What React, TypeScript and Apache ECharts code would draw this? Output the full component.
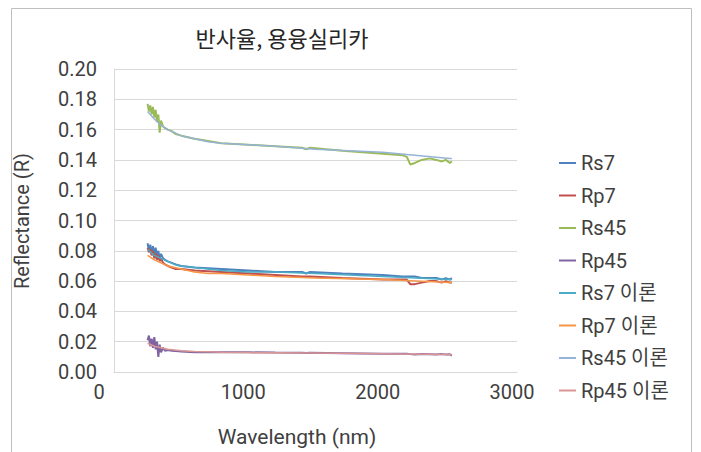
import React, { useEffect, useRef } from "react";
import * as echarts from "echarts";

const title = "반사율, 용융실리카";
const xName = "Wavelength (nm)";
const yName = "Reflectance (R)";

const xTicks = [0, 1000, 2000, 3000];
const yTicks = [0, 0.02, 0.04, 0.06, 0.08, 0.1, 0.12, 0.14, 0.16, 0.18, 0.2];

// measured wavelengths (nm)
const measuredWl = [250, 260, 270, 280, 290, 300, 310, 320, 330, 340, 350, 365, 380, 400, 430, 460, 500, 600, 800, 1000, 1200, 1400, 1430, 1460, 1700, 2000, 2150, 2180, 2205, 2240, 2290, 2350, 2400, 2440, 2470, 2500, 2515];

const rs7 = [0.085, 0.080, 0.084, 0.078, 0.083, 0.077, 0.082, 0.076, 0.080, 0.075, 0.078, 0.075, 0.074, 0.073, 0.072, 0.071, 0.070, 0.069, 0.068, 0.067, 0.066, 0.066, 0.065, 0.066, 0.065, 0.064, 0.063, 0.063, 0.063, 0.063, 0.062, 0.062, 0.062, 0.061, 0.062, 0.061, 0.062];
const rp7 = [0.082, 0.079, 0.081, 0.077, 0.080, 0.075, 0.078, 0.074, 0.077, 0.073, 0.075, 0.072, 0.071, 0.070, 0.069, 0.068, 0.068, 0.067, 0.066, 0.065, 0.064, 0.063, 0.063, 0.063, 0.062, 0.061, 0.061, 0.061, 0.058, 0.058, 0.059, 0.060, 0.060, 0.059, 0.060, 0.059, 0.059];
const rs45 = [0.177, 0.172, 0.176, 0.170, 0.175, 0.168, 0.173, 0.165, 0.170, 0.158, 0.166, 0.162, 0.161, 0.160, 0.159, 0.157, 0.156, 0.154, 0.151, 0.150, 0.149, 0.148, 0.147, 0.148, 0.146, 0.144, 0.143, 0.142, 0.137, 0.138, 0.140, 0.141, 0.140, 0.139, 0.140, 0.138, 0.139];
const rp45 = [0.021, 0.024, 0.017, 0.022, 0.016, 0.023, 0.015, 0.020, 0.010, 0.018, 0.013, 0.016, 0.014, 0.0145, 0.014, 0.0138, 0.0135, 0.013, 0.013, 0.013, 0.0128, 0.0127, 0.0125, 0.0127, 0.0124, 0.012, 0.012, 0.012, 0.0118, 0.0116, 0.0118, 0.0117, 0.0116, 0.0118, 0.0115, 0.0117, 0.0108];

// theoretical wavelengths (nm)
const theoryWl = [250, 300, 350, 400, 450, 500, 600, 700, 800, 1000, 1200, 1500, 2000, 2500, 2515];
const rs7Theory = [0.081, 0.077, 0.075, 0.073, 0.071, 0.070, 0.069, 0.068, 0.067, 0.066, 0.066, 0.065, 0.063, 0.061, 0.061];
const rp7Theory = [0.077, 0.074, 0.072, 0.070, 0.069, 0.068, 0.066, 0.065, 0.065, 0.064, 0.063, 0.062, 0.061, 0.059, 0.059];
const rs45Theory = [0.172, 0.167, 0.163, 0.160, 0.158, 0.156, 0.154, 0.152, 0.151, 0.150, 0.149, 0.147, 0.145, 0.141, 0.141];
const rp45Theory = [0.019, 0.017, 0.016, 0.015, 0.0145, 0.014, 0.0135, 0.0133, 0.013, 0.0128, 0.0127, 0.0125, 0.012, 0.0115, 0.0115];

const seriesNames = ["Rs7", "Rp7", "Rs45", "Rp45", "Rs7 이론", "Rp7 이론", "Rs45 이론", "Rp45 이론"];
const seriesColors = ["#4F81BD", "#C0504D", "#9BBB59", "#8064A2", "#4BACC6", "#F79646", "#95B3D7", "#D99694"];

const FONT = "Roboto, 'Noto Sans CJK KR', sans-serif";
const TEXT = "#404040";

function pairs(xs: number[], ys: number[]) {
  return xs.map((x, i) => [x, ys[i]]);
}

export default function App() {
  const ref = useRef<HTMLDivElement>(null);
  useEffect(() => {
    if (!ref.current) return;
    const chart = echarts.init(ref.current, null, { renderer: "svg" });
    const dataSets = [
      pairs(measuredWl, rs7),
      pairs(measuredWl, rp7),
      pairs(measuredWl, rs45),
      pairs(measuredWl, rp45),
      pairs(theoryWl, rs7Theory),
      pairs(theoryWl, rp7Theory),
      pairs(theoryWl, rs45Theory),
      pairs(theoryWl, rp45Theory),
    ];
    chart.setOption({
      animation: false,
      backgroundColor: "#ffffff",
      textStyle: { fontFamily: FONT },
      graphic: [
        {
          type: "rect",
          shape: { x: 11.5, y: 8.5, width: 680, height: 470 },
          style: { fill: "none", stroke: "#bfbfbf", lineWidth: 1 },
          silent: true,
        },
        {
          type: "text",
          x: 282,
          y: 37,
          style: {
            text: title,
            fill: "#262626",
            font: `22px 'Noto Sans CJK KR', ${FONT}`,
            align: "center",
            verticalAlign: "middle",
          },
        },
        {
          type: "text",
          x: 297,
          y: 437,
          style: {
            text: xName,
            fill: TEXT,
            font: `21px ${FONT}`,
            align: "center",
            verticalAlign: "middle",
          },
        },
        {
          type: "text",
          x: 22,
          y: 221,
          rotation: Math.PI / 2,
          style: {
            text: yName,
            fill: TEXT,
            font: `20px ${FONT}`,
            align: "center",
            verticalAlign: "middle",
          },
        },
      ],
      grid: { left: 114, top: 69, right: 184, bottom: 80, containLabel: false },
      legend: {
        orient: "vertical",
        left: 554,
        top: 147,
        icon: "rect",
        itemWidth: 17,
        itemHeight: 2,
        itemGap: 10.5,
        data: seriesNames,
        textStyle: { fontSize: 20, color: TEXT, fontFamily: FONT, lineHeight: 22 },
      },
      xAxis: {
        type: "value",
        min: xTicks[0],
        max: xTicks[xTicks.length - 1],
        interval: 1000,
        axisLine: { show: true, lineStyle: { color: "#d9d9d9" } },
        axisTick: { show: false },
        splitLine: { show: false },
        axisLabel: {
          fontSize: 20,
          color: TEXT,
          fontFamily: FONT,
          margin: 10,
          padding: [0, 10, 0, 0],
          formatter: (v: number) => (v === 0 ? "{z|0}" : String(v)),
          rich: {
            z: { fontSize: 20, color: TEXT, fontFamily: FONT, padding: [0, 20, 0, 0] },
          },
        },
      },
      yAxis: {
        type: "value",
        min: yTicks[0],
        max: yTicks[yTicks.length - 1],
        interval: 0.02,
        axisLine: { show: true, lineStyle: { color: "#d9d9d9" } },
        axisTick: { show: false },
        splitLine: { show: true, lineStyle: { color: "#d9d9d9", width: 1 } },
        axisLabel: {
          fontSize: 20,
          color: TEXT,
          fontFamily: FONT,
          margin: 17,
          formatter: (v: number) => v.toFixed(2),
        },
      },
      series: seriesNames.map((name, i) => ({
        name,
        type: "line",
        data: dataSets[i],
        showSymbol: false,
        symbol: "none",
        color: seriesColors[i],
        lineStyle: { width: i < 4 ? 2 : 1.5, color: seriesColors[i] },
        z: 2 + i,
      })),
    });
    return () => chart.dispose();
  }, []);
  return (
    <div
      ref={ref}
      style={{ position: "fixed", left: 0, top: 0, width: 701, height: 452 }}
    />
  );
}
